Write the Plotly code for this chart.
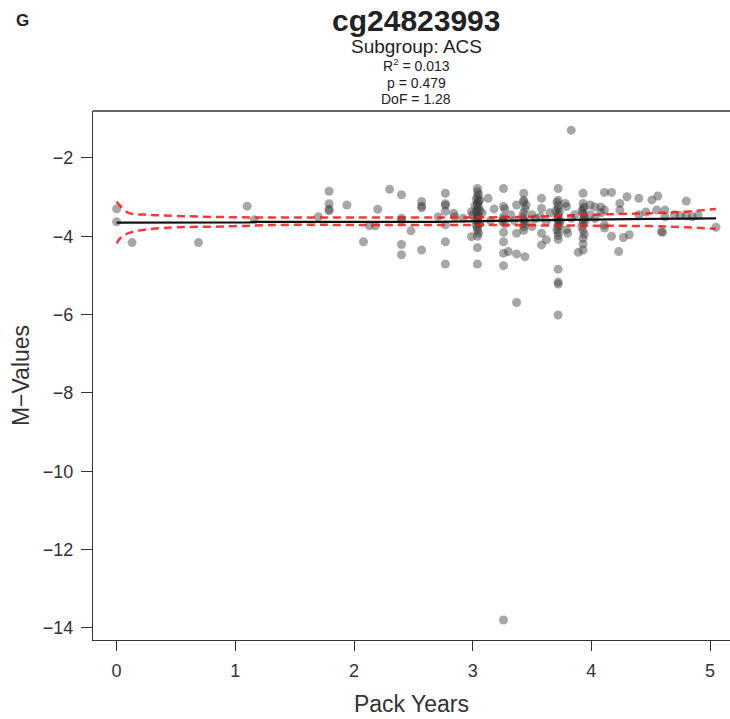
import plotly.graph_objects as go

# ---- data ----
pack_years = [
    0.00, 0.00, 0.13, 0.69, 1.10, 1.16, 1.70,
    1.79, 1.79, 1.79, 1.79, 1.94, 2.08, 2.13, 2.18, 2.20, 2.30,
    2.40, 2.40, 2.40, 2.40, 2.40, 2.48,
    2.57, 2.57, 2.57, 2.57, 2.71,
    2.77, 2.77, 2.77, 2.77, 2.77, 2.77, 2.77,
    2.84, 2.85, 2.92, 2.99, 2.99,
    3.04, 3.04, 3.05, 3.04, 3.03, 3.05, 3.04, 3.04, 3.05, 3.04, 3.03, 3.04, 3.05, 3.04, 3.04,
    3.05, 3.03, 3.04, 3.04, 3.05, 3.04, 3.04, 3.04, 3.06, 3.02, 3.06, 3.02, 3.06, 3.00, 3.08,
    3.13, 3.18, 3.15,
    3.26, 3.26, 3.27, 3.26, 3.26, 3.25, 3.27, 3.26, 3.26, 3.26, 3.26, 3.26,
    3.30, 3.32, 3.37, 3.37, 3.37, 3.37, 3.35,
    3.43, 3.43, 3.43, 3.44, 3.43, 3.42, 3.43, 3.44, 3.43, 3.43, 3.43, 3.44, 3.45,
    3.50, 3.50, 3.53,
    3.58, 3.58, 3.57, 3.58, 3.58, 3.62, 3.62, 3.65,
    3.72, 3.72, 3.71, 3.72, 3.72, 3.73, 3.72, 3.71, 3.72, 3.72, 3.73, 3.72, 3.71, 3.72, 3.72,
    3.72, 3.72, 3.72, 3.72, 3.72, 3.70, 3.74,
    3.78, 3.79, 3.79, 3.80, 3.83, 3.83, 3.86, 3.89,
    3.93, 3.93, 3.94, 3.93, 3.92, 3.93, 3.94, 3.93, 3.93, 3.92, 3.93, 3.94, 3.93, 3.93, 3.93, 3.95,
    3.99, 3.99, 4.03, 4.03, 4.08, 4.08,
    4.11, 4.11, 4.11, 4.11, 4.17, 4.17, 4.23, 4.24, 4.24, 4.30, 4.27, 4.32,
    4.40, 4.40, 4.46, 4.51, 4.56, 4.55, 4.59, 4.60, 4.62, 4.62, 4.70, 4.75, 4.80, 4.80, 4.85,
    4.90, 5.05,
]
m_values = [
    -3.30, -3.63, -4.16, -4.16, -3.23, -3.58, -3.50,
    -2.85, -3.17, -3.31, -3.35, -3.20, -4.14, -3.73, -3.73, -3.31, -2.80,
    -2.94, -3.54, -3.59, -4.21, -4.47, -3.86,
    -3.11, -3.23, -3.27, -4.35, -3.50,
    -2.90, -3.17, -3.21, -3.36, -3.71, -4.14, -4.71,
    -3.41, -3.50, -3.54, -3.37, -4.01,
    -2.78, -2.86, -2.93, -2.99, -3.05, -3.10, -3.15, -3.20, -3.26, -3.31, -3.37, -3.43, -3.49, -3.55, -3.61,
    -3.66, -3.72, -3.78, -3.85, -3.92, -4.00, -4.29, -4.71, -3.08, -3.22, -3.35, -3.58, -3.68, -3.45, -3.40,
    -3.03, -3.30, -3.60,
    -2.78, -3.24, -3.30, -3.50, -3.56, -3.62, -3.68, -3.90, -4.14, -4.43, -4.75, -13.80,
    -4.39, -3.45, -3.20, -3.92, -4.45, -5.69, -3.60,
    -2.90, -3.08, -3.13, -3.30, -3.40, -3.50, -3.56, -3.62, -3.68, -3.76, -3.85, -4.52, -3.20,
    -3.45, -3.75, -3.55,
    -3.03, -3.29, -3.50, -3.92, -4.22, -4.09, -3.62, -3.40,
    -2.78, -3.08, -3.13, -3.22, -3.30, -3.38, -3.45, -3.52, -3.58, -3.64, -3.70, -3.76, -3.83, -3.90, -3.98,
    -4.08, -4.84, -5.17, -5.22, -6.01, -3.35, -3.60,
    -3.16, -3.24, -3.83, -3.92, -1.29, -3.54, -3.45, -4.41,
    -2.90, -3.16, -3.25, -3.30, -3.35, -3.42, -3.50, -3.58, -3.66, -3.75, -3.85, -3.95, -4.05, -4.20, -4.35, -3.60,
    -3.20, -3.45, -3.25, -3.55, -3.25, -3.40,
    -2.88, -3.33, -3.71, -3.79, -2.88, -4.00, -4.39, -3.16, -3.33, -2.99, -4.03, -3.96,
    -3.03, -3.45, -3.38, -3.07, -2.97, -3.33, -3.88, -3.90, -3.33, -3.50, -3.45, -3.47, -3.10, -3.48, -3.50,
    -3.47, -3.77,
]

fit_x = [0.00, 0.50, 1.12, 1.16, 2.00, 2.70, 3.30, 3.90, 4.50, 5.05]
fit_y = [-3.65, -3.65, -3.645, -3.63, -3.63, -3.63, -3.60, -3.57, -3.555, -3.54]

ci_x = [0.00, 0.03, 0.10, 0.27, 0.50, 0.90, 1.35, 2.00, 3.00, 3.50, 4.00, 4.50, 4.80, 5.05]
ci_upper = [-3.12, -3.22, -3.40, -3.45, -3.48, -3.51, -3.52, -3.52, -3.52, -3.50, -3.45, -3.41, -3.37, -3.30]
ci_lower = [-4.18, -4.05, -3.92, -3.82, -3.77, -3.75, -3.71, -3.71, -3.71, -3.72, -3.73, -3.74, -3.77, -3.81]

x_ticks = [0, 1, 2, 3, 4, 5]
y_ticks = [-2, -4, -6, -8, -10, -12, -14]

title_text = "cg24823993"
subtitle_text = "Subgroup: ACS"
stats_lines = ["R<sup>2</sup> = 0.013", "p = 0.479", "DoF = 1.28"]
panel_label = "G"

FONT = "Liberation Sans, Arial, sans-serif"
TXT = "#333333"

fig = go.Figure()
fig.add_trace(go.Scatter(
    x=pack_years, y=m_values, mode="markers",
    marker=dict(size=9, color="rgba(60,60,60,0.45)", line=dict(width=0)),
    showlegend=False, hoverinfo="x+y",
))
for band in (ci_upper, ci_lower):
    fig.add_trace(go.Scatter(
        x=ci_x, y=band, mode="lines",
        line=dict(color="rgba(255,20,20,0.85)", width=2.5, dash="8px,5px", shape="spline"),
        showlegend=False, hoverinfo="skip",
    ))
fig.add_trace(go.Scatter(
    x=fit_x, y=fit_y, mode="lines",
    line=dict(color="#111111", width=2.2),
    showlegend=False, hoverinfo="skip",
))

W, H = 730, 719
L, T, B = 93, 111, 79
plot_w = W - L
plot_h = H - T - B

def px_x(p):
    return (p - L) / plot_w

def px_y(p):
    return (H - B - p) / plot_h

annos = [
    dict(text="<b>%s</b>" % title_text, x=px_x(416), y=px_y(21), size=30),
    dict(text=subtitle_text, x=px_x(416), y=px_y(47), size=19),
    dict(text=stats_lines[0], x=px_x(416), y=px_y(65), size=14),
    dict(text=stats_lines[1], x=px_x(416), y=px_y(83), size=14),
    dict(text=stats_lines[2], x=px_x(416), y=px_y(99), size=14),
    dict(text="<b>%s</b>" % panel_label, x=px_x(22), y=px_y(21), size=17),
]
for a in annos:
    fig.add_annotation(
        text=a["text"], x=a["x"], y=a["y"], xref="paper", yref="paper",
        xanchor="center", yanchor="middle", showarrow=False,
        font=dict(family=FONT, size=a["size"], color="#222222"),
    )

fig.add_shape(type="line", xref="paper", yref="paper", x0=0, x1=1, y0=1, y1=1,
              line=dict(color="#333333", width=1.5))

fig.update_layout(
    width=W, height=H,
    margin=dict(l=L, r=0, t=T, b=B, pad=0),
    plot_bgcolor="white", paper_bgcolor="white",
    font=dict(family=FONT, color=TXT),
    xaxis=dict(
        range=[-0.199, 5.168], tickvals=x_ticks, ticks="outside", ticklen=10,
        tickwidth=1, tickcolor="#333333", showline=True, linecolor="#333333", linewidth=1,
        showgrid=False, zeroline=False, tickfont=dict(size=18, color=TXT),
        title=dict(text="Pack Years", font=dict(size=23, color=TXT), standoff=16),
        ticklabelstandoff=4,
    ),
    yaxis=dict(
        range=[-14.31, -0.80], tickvals=y_ticks, ticks="outside", ticklen=11,
        tickwidth=1, tickcolor="#333333", showline=True, linecolor="#333333", linewidth=1,
        showgrid=False, zeroline=False, tickfont=dict(size=18, color=TXT),
        title=dict(text="M−Values", font=dict(size=23, color=TXT), standoff=6),
        ticklabelstandoff=4,
    ),
)

fig.write_html("out.html")
